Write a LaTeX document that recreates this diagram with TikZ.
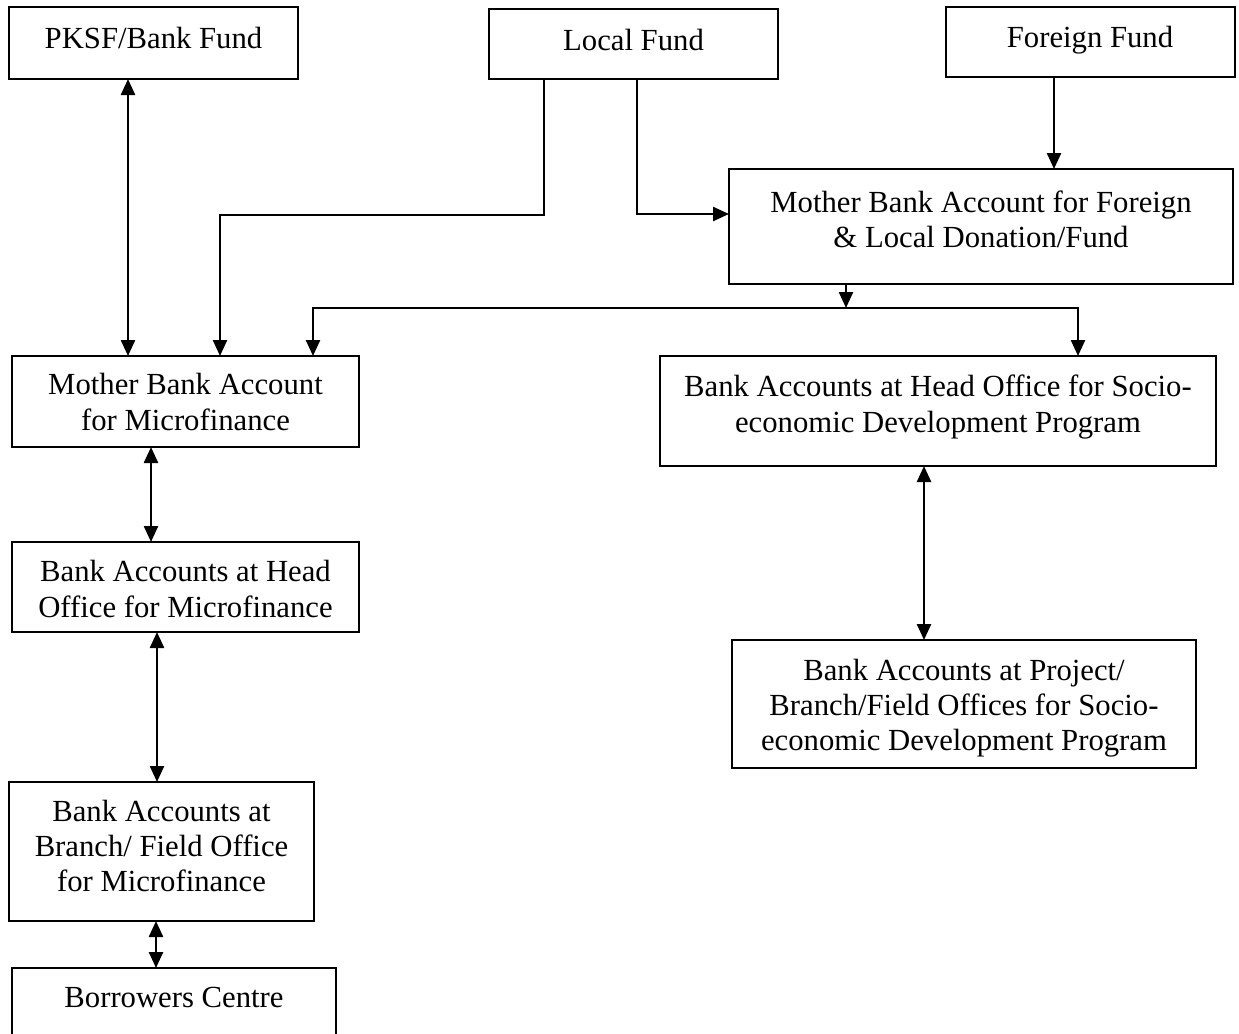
\documentclass[tikz,border=0pt]{standalone}
\usepackage{fontspec}
\setmainfont{Liberation Serif}
\usetikzlibrary{arrows.meta}
\begin{document}
\begin{tikzpicture}[x=1pt,y=-1pt,
  box/.style={draw, line width=2.4pt, anchor=north west, inner sep=0pt, outer sep=0pt},
  txt/.style={font=\fontsize{30.7}{35.3}\selectfont, align=center, inner sep=0pt},
  conn/.style={line width=2.4pt},
  one/.style={conn, -{Triangle[length=16pt,width=14pt]}},
  dbl/.style={conn, {Triangle[length=16pt,width=14pt]}-{Triangle[length=16pt,width=14pt]}}]
\useasboundingbox (0,0) rectangle (1239,1033);
\clip (0,0) rectangle (1239,1033);
\fill[white] (0,0) rectangle (1239,1033);
% boxes
\node[box, minimum width=289pt, minimum height=72pt]  (pksf)    at (9,7)     {};
\node[box, minimum width=289pt, minimum height=70pt]  (local)   at (489,9)   {};
\node[box, minimum width=289pt, minimum height=70pt]  (foreign) at (946,7)   {};
\node[box, minimum width=504pt, minimum height=115pt] (mfl)     at (729,169) {};
\node[box, minimum width=347pt, minimum height=91pt]  (mmf)     at (12,356)  {};
\node[box, minimum width=556pt, minimum height=110pt] (hos)     at (660,356) {};
\node[box, minimum width=347pt, minimum height=90pt]  (homf)    at (12,542)  {};
\node[box, minimum width=464pt, minimum height=128pt] (proj)    at (732,640) {};
\node[box, minimum width=305pt, minimum height=139pt] (bmf)     at (9,782)   {};
\node[box, minimum width=324pt, minimum height=100pt] (bor)     at (12,968)  {};
% texts
\node[txt] (pksft)    at (153.5,38) {PKSF/Bank Fund};
\node[txt] (localt)   at (633.5,40) {Local Fund};
\node[txt] (foreignt) at (1090,40)  {Foreign Fund};
\node[txt] (mflt)     at (981,219)  {Mother Bank Account for Foreign\\\& Local Donation/Fund};
\node[txt] (mmft)     at (185.5,402) {Mother Bank Account\\for Microfinance};
\node[txt] (host)     at (938,407)  {Bank Accounts at Head Office for Socio-\\economic Development Program};
\node[txt] (homft)    at (185.5,589) {Bank Accounts at Head\\Office for Microfinance};
\node[txt] (projt)    at (964,708)  {Bank Accounts at Project/\\Branch/Field Offices for Socio-\\economic Development Program};
\node[txt] (bmft)     at (161.5,846) {Bank Accounts at\\Branch/ Field Office\\for Microfinance};
\node[txt] (bort)     at (174,997)  {Borrowers Centre};
% connectors
\coordinate (jn) at (846,308);
\draw[dbl] (128,0 |- pksf.south) -- (128,0 |- mmf.north);
\draw[one] (544,0 |- local.south) -- (544,215) -| (220,0 |- mmf.north);
\draw[one] (637,0 |- local.south) |- (mfl.west |- 0,214);
\draw[one] (1054,0 |- foreign.south) -- (1054,0 |- mfl.north);
\draw[one] (846,0 |- mfl.south) -- (jn);
\draw[one] (jn) -| (313,0 |- mmf.north);
\draw[one] (jn) -| (1078,0 |- hos.north);
\draw[dbl] (151,0 |- mmf.south) -- (151,0 |- homf.north);
\draw[dbl] (157,0 |- homf.south) -- (157,0 |- bmf.north);
\draw[dbl] (156,0 |- bmf.south) -- (156,0 |- bor.north);
\draw[dbl] (924,0 |- hos.south) -- (924,0 |- proj.north);
\end{tikzpicture}
\end{document}
